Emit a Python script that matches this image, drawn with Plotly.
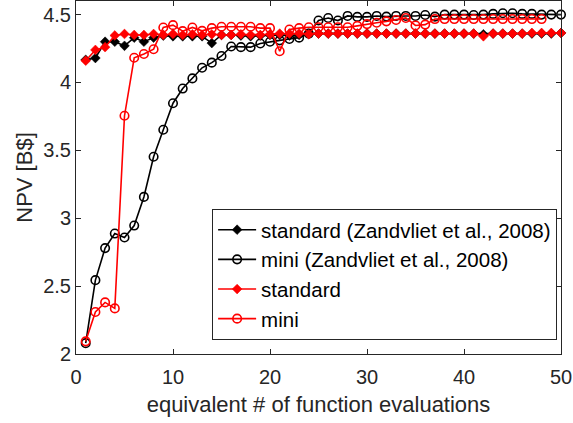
import plotly.graph_objects as go

# Equivalent number of function evaluations
x_std = list(range(1, 51))
x_mini_ref = list(range(1, 51))
x_mini = list(range(1, 49))

# NPV [B$] for each run
npv_std_ref = [4.167, 4.18, 4.30, 4.30, 4.27, 4.33, 4.30, 4.33, 4.345, 4.34,
               4.34, 4.34, 4.34, 4.29, 4.35, 4.35, 4.345, 4.34, 4.345, 4.35,
               4.35, 4.345, 4.35, 4.36, 4.36, 4.36, 4.36, 4.36, 4.36, 4.36,
               4.36, 4.36, 4.36, 4.36, 4.36, 4.36, 4.36, 4.36, 4.36, 4.36,
               4.36, 4.355, 4.36, 4.36, 4.36, 4.36, 4.36, 4.36, 4.36, 4.365]

npv_mini_ref = [2.08, 2.544, 2.78, 2.887, 2.858, 2.946, 3.157, 3.453, 3.652, 3.847,
                3.955, 4.03, 4.108, 4.146, 4.195, 4.265, 4.26, 4.26, 4.287, 4.30,
                4.31, 4.32, 4.33, 4.36, 4.456, 4.475, 4.456, 4.49, 4.483, 4.483,
                4.49, 4.485, 4.49, 4.49, 4.49, 4.497, 4.485, 4.50, 4.50, 4.50,
                4.497, 4.50, 4.505, 4.51, 4.51, 4.505, 4.505, 4.50, 4.50, 4.50]

npv_std = [4.16, 4.24, 4.26, 4.346, 4.357, 4.35, 4.35, 4.357, 4.35, 4.357,
           4.35, 4.355, 4.35, 4.355, 4.35, 4.35, 4.355, 4.35, 4.35, 4.355,
           4.36, 4.36, 4.36, 4.355, 4.36, 4.36, 4.36, 4.36, 4.36, 4.36,
           4.36, 4.36, 4.36, 4.36, 4.36, 4.36, 4.36, 4.36, 4.36, 4.36,
           4.36, 4.34, 4.36, 4.36, 4.36, 4.36, 4.365, 4.365, 4.365, 4.365]

npv_mini = [2.093, 2.309, 2.38, 2.336, 3.755, 4.182, 4.21, 4.245, 4.405, 4.422,
            4.378, 4.405, 4.38, 4.40, 4.41, 4.41, 4.41, 4.41, 4.40, 4.40,
            4.23, 4.39, 4.40, 4.407, 4.407, 4.407, 4.407, 4.407, 4.417, 4.43,
            4.44, 4.45, 4.46, 4.475, 4.42, 4.426, 4.467, 4.467, 4.467, 4.467,
            4.467, 4.467, 4.467, 4.467, 4.467, 4.467, 4.467, 4.467]

y_ticks = [2, 2.5, 3, 3.5, 4, 4.5]
y_tick_text = ["2", "2.5", "3", "3.5", "4", "4.5"]
x_ticks = [0, 10, 20, 30, 40, 50]

FONT = "Liberation Sans, Arial, Helvetica, sans-serif"
AX = "#262626"

fig = go.Figure()


def add_series(x, y, name, color, symbol):
    if symbol == "diamond":
        marker = dict(symbol="diamond", size=7.5, color=color,
                      line=dict(color=color, width=0.5))
    else:
        marker = dict(symbol="circle-open", size=8.5, color=color,
                      line=dict(color=color, width=1.6))
    fig.add_trace(go.Scatter(
        x=x, y=y, name=name, mode="lines+markers",
        line=dict(color=color, width=1.6),
        marker=marker, cliponaxis=False,
    ))


add_series(x_std, npv_std_ref, "standard (Zandvliet et al., 2008)", "#000000", "diamond")
add_series(x_mini_ref, npv_mini_ref, "mini (Zandvliet et al., 2008)", "#000000", "circle")
add_series(x_std, npv_std, "standard", "#ff0000", "diamond")
add_series(x_mini, npv_mini, "mini", "#ff0000", "circle")

axis_common = dict(
    showline=True, linecolor=AX, linewidth=1, mirror="ticks",
    ticks="inside", ticklen=5, tickcolor=AX, tickwidth=1,
    showgrid=False, zeroline=False,
    tickfont=dict(family=FONT, size=20, color=AX),
    title_font=dict(family=FONT, size=22, color=AX),
)

fig.update_xaxes(range=[0, 50], tickvals=x_ticks, ticklabelstandoff=5,
                 title_text="equivalent # of function evaluations",
                 title_standoff=9, **axis_common)
fig.update_yaxes(range=[2, 4.6], tickvals=y_ticks, ticktext=y_tick_text,
                 title_text="NPV [B$]", title_standoff=4, **axis_common)

fig.update_layout(
    width=573, height=423,
    margin=dict(l=76, r=12, t=1, b=69),
    paper_bgcolor="white", plot_bgcolor="white",
    font=dict(family=FONT, color=AX),
    showlegend=True,
    legend=dict(
        x=0.992, y=0.04, xanchor="right", yanchor="bottom",
        bgcolor="white", bordercolor=AX, borderwidth=1,
        font=dict(family=FONT, size=20.5, color="#000000"),
        tracegroupgap=0, itemwidth=38,
    ),
)

fig.write_html("out.html")
